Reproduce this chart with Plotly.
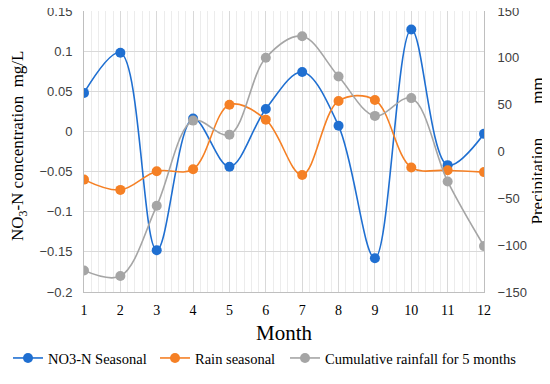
import plotly.graph_objects as go

months = list(range(1, 13))
no3_seasonal = [0.048, 0.098, -0.148, 0.016, -0.044, 0.028, 0.074, 0.007, -0.158, 0.127, -0.042, -0.003]
rain_seasonal = [-30, -41, -21, -19, 50, 34, -25, 54, 55, -17, -20, -22]
cum_rain_5m = [-127, -133, -58, 33, 18, 100, 123, 80, 38, 57, -32, -101]
left_ticks = [-0.2, -0.15, -0.1, -0.05, 0, 0.05, 0.1, 0.15]
left_tick_text = ["\u22120.2", "\u22120.15", "\u22120.1", "\u22120.05", "0", "0.05", "0.1", "0.15"]
right_ticks = [-150, -100, -50, 0, 50, 100, 150]
right_tick_text = ["\u2212150", "\u2212100", "\u221250", "0", "50", "100", "150"]

serif = "Liberation Serif, Times New Roman, serif"
sans = "Liberation Sans, Arial, sans-serif"

fig = go.Figure()
fig.add_trace(go.Scatter(x=months, y=no3_seasonal, name="NO3-N Seasonal", mode="lines+markers",
                         line=dict(color="#1f6fd1", width=1.6, shape="spline", smoothing=1),
                         marker=dict(size=10, color="#1f6fd1"), yaxis="y", legend="legend"))
fig.add_trace(go.Scatter(x=months, y=rain_seasonal, name="Rain seasonal", mode="lines+markers",
                         line=dict(color="#f58025", width=1.6, shape="spline", smoothing=1),
                         marker=dict(size=10, color="#f58025"), yaxis="y2", legend="legend2"))
fig.add_trace(go.Scatter(x=months, y=cum_rain_5m, name="Cumulative rainfall for 5 months", mode="lines+markers",
                         line=dict(color="#a5a5a5", width=1.6, shape="spline", smoothing=1),
                         marker=dict(size=10, color="#a5a5a5"), yaxis="y2", legend="legend3"))

leg_font = dict(family=serif, size=14.5, color="#000")
fig.update_layout(
    width=542, height=376,
    margin=dict(l=76, r=66, t=3, b=92, autoexpand=False),
    paper_bgcolor="white", plot_bgcolor="white",
    showlegend=True,
    legend=dict(orientation="h", x=-0.19, xanchor="left", y=-0.235, yanchor="middle",
                font=leg_font, itemwidth=30, bgcolor="rgba(0,0,0,0)"),
    legend2=dict(orientation="h", x=0.1775, xanchor="left", y=-0.235, yanchor="middle",
                 font=leg_font, itemwidth=30, bgcolor="rgba(0,0,0,0)"),
    legend3=dict(orientation="h", x=0.5025, xanchor="left", y=-0.235, yanchor="middle",
                 font=leg_font, itemwidth=30, bgcolor="rgba(0,0,0,0)"),
    xaxis=dict(range=[1, 12], tickmode="array", tickvals=months, ticktext=[str(m) for m in months],
               automargin=False, ticklabeloverflow="allow",
               showgrid=True, gridcolor="#d9d9d9", gridwidth=1,
               minor=dict(dtick=0.2, showgrid=True, gridcolor="#ececec", gridwidth=1),
               showline=True, linecolor="#bfbfbf", zeroline=False,
               ticks="", ticklabelstandoff=5,
               tickfont=dict(family=serif, size=14, color="#000")),
    yaxis=dict(range=[-0.2, 0.15], tickmode="array", tickvals=left_ticks, ticktext=left_tick_text,
               showgrid=True, gridcolor="#d9d9d9",
               automargin=False, ticklabeloverflow="allow",
               zeroline=False, showline=True, linecolor="#bfbfbf", ticks="", ticklabelstandoff=8,
               tickfont=dict(family=sans, size=13, color="#404040")),
    yaxis2=dict(range=[-150, 150], tickmode="array", tickvals=right_ticks, ticktext=right_tick_text,
                overlaying="y", side="right", showgrid=False,
                automargin=False, ticklabeloverflow="allow",
                zeroline=False, showline=True, linecolor="#bfbfbf", ticks="", ticklabelstandoff=10,
                tickfont=dict(family=sans, size=13, color="#404040")),
    annotations=[
        dict(text="Month", xref="paper", yref="paper", x=0.5, y=-0.146, xanchor="center",
             yanchor="middle", showarrow=False, font=dict(family=serif, size=21, color="#000")),
        dict(text="NO<sub>3</sub>-N concentration  mg/L", xref="paper", yref="paper", x=-0.162, y=0.52,
             xanchor="center", yanchor="middle", textangle=-90, showarrow=False,
             font=dict(family=serif, size=17, color="#000")),
        dict(text="Precipitation        mm", xref="paper", yref="paper", x=1.1325, y=0.5,
             xanchor="center", yanchor="middle", textangle=-90, showarrow=False,
             font=dict(family=serif, size=17, color="#000")),
    ],
)

fig.write_html("out.html")
